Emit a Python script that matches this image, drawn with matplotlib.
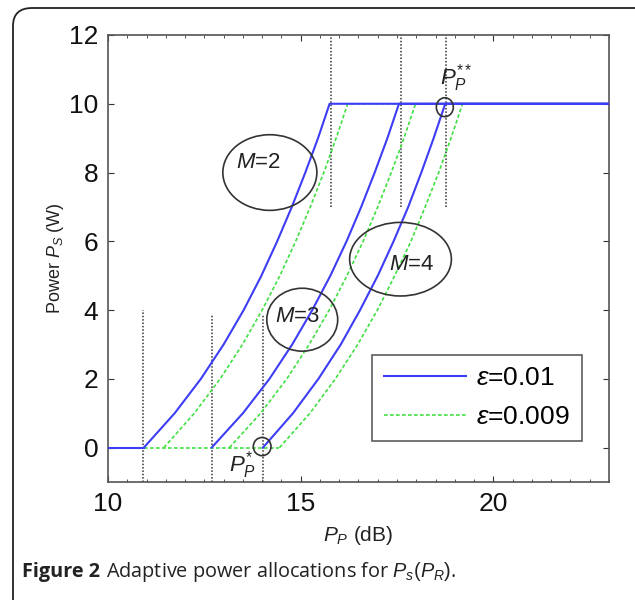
import matplotlib
matplotlib.use("Agg")
import matplotlib.pyplot as plt
from matplotlib.patches import Ellipse, FancyBboxPatch
from matplotlib.ticker import MultipleLocator

plt.rcParams['font.family'] = ['Liberation Sans', 'DejaVu Sans']
plt.rcParams['mathtext.fontset'] = 'custom'
plt.rcParams['mathtext.rm'] = 'Liberation Sans'
plt.rcParams['mathtext.it'] = 'Liberation Sans:italic'
plt.rcParams['mathtext.bf'] = 'Liberation Sans:bold'

# power levels (W)
ps_levels = [0, 1, 2, 3, 4, 5, 6, 7, 8, 9, 10, 10]

# P_P (dB) where each curve reaches the levels above (last point = right edge)
blue_m2 = [10.93, 11.73, 12.41, 13.00, 13.52, 13.98, 14.39, 14.77, 15.12, 15.45, 15.75, 23.0]
blue_m3 = [12.69, 13.50, 14.19, 14.78, 15.30, 15.77, 16.19, 16.57, 16.92, 17.25, 17.55, 23.0]
blue_m4 = [14.02, 14.80, 15.46, 16.04, 16.54, 17.00, 17.41, 17.79, 18.13, 18.45, 18.75, 23.0]
green_m2 = [11.45, 12.24, 12.91, 13.49, 14.00, 14.46, 14.87, 15.25, 15.60, 15.92, 16.22, 23.0]
green_m3 = [13.15, 13.96, 14.64, 15.22, 15.74, 16.20, 16.62, 17.00, 17.35, 17.68, 17.98, 23.0]
green_m4 = [14.45, 15.24, 15.90, 16.48, 16.99, 17.44, 17.86, 18.23, 18.58, 18.90, 19.20, 23.0]

# zero-power stretches before each threshold
blue_zero = [(10.0, 10.93)]
green_zero = [(10.0, 14.45)]

# dotted guide lines
low_guide_x = [10.9, 12.69, 14.02]
low_guide_top = [4.0, 3.85, 3.9]
high_guide_x = [15.78, 17.6, 18.76]
high_guide_bottom = [7.0, 7.0, 7.0]

# M labels: number, ellipse centre, width, height, text position
m_values = ['2', '3', '4']
m_centres = [(14.2, 8.0), (15.04, 3.72), (17.59, 5.48)]
m_sizes = [(2.44, 2.2), (1.84, 1.83), (2.64, 2.14)]
m_text_pos = [(13.9, 8.3), (14.92, 3.8), (17.88, 5.33)]

blue = '#3d3df5'
green = '#40e040'

fig = plt.figure(figsize=(6.35, 6.0), dpi=100)

# rounded outer frame
frame = FancyBboxPatch((13 / 635, -0.05), 1.1, 1.05 - 8 / 600,
                       boxstyle="round,pad=0,rounding_size=0.03",
                       transform=fig.transFigure, fill=False,
                       edgecolor='#222222', linewidth=1.3)
fig.patches.append(frame)

ax = fig.add_axes([108 / 635, 1 - 482 / 600, 501 / 635, 447 / 600])

for x0, x1 in green_zero:
    ax.plot([x0, x1], [0, 0], color=green, linewidth=1.2, dashes=(2.2, 1.4), zorder=2)
for x0, x1 in blue_zero:
    ax.plot([x0, x1], [0, 0], color=blue, linewidth=1.5, zorder=3)
for xs in [green_m2, green_m3, green_m4]:
    ax.plot(xs, ps_levels, color=green, linewidth=1.2, dashes=(2.2, 1.4), zorder=2)
for xs in [blue_m2, blue_m3, blue_m4]:
    ax.plot(xs, ps_levels, color=blue, linewidth=1.5, zorder=3)

for x, top in zip(low_guide_x, low_guide_top):
    ax.plot([x, x], [-1, top], color='#333333', linewidth=1.1, dashes=(1, 1.2), zorder=1)
for x, bot in zip(high_guide_x, high_guide_bottom):
    ax.plot([x, x], [bot, 12], color='#333333', linewidth=1.1, dashes=(1, 1.2), zorder=1)

for m, c, (w, h), tp in zip(m_values, m_centres, m_sizes, m_text_pos):
    ax.add_patch(Ellipse(c, w, h, fill=False, edgecolor='#333333', linewidth=1.2, zorder=4))
    ax.text(tp[0], tp[1], '$M$=' + m, fontsize=16, ha='center', va='center',
            color='#222222', zorder=5)

# small circles marking the thresholds
ax.add_patch(Ellipse((18.74, 9.9), 0.44, 0.55, fill=False, edgecolor='#333333', linewidth=1.2, zorder=4))
ax.add_patch(Ellipse((14.0, 0.03), 0.46, 0.53, fill=False, edgecolor='#333333', linewidth=1.2, zorder=4))
ax.text(19.05, 10.75, r'$P_P^{**}$', fontsize=16, ha='center', va='center', color='#222222')
ax.text(13.5, -0.5, r'$P_P^{*}$', fontsize=16, ha='center', va='center', color='#222222')

ax.set_xlim(10, 23)
ax.set_ylim(-1, 12)
ax.set_xticks([10, 15, 20])
ax.set_yticks([0, 2, 4, 6, 8, 10, 12])
ax.xaxis.set_minor_locator(MultipleLocator(0.5))
ax.tick_params(which='both', direction='in', top=True, right=True, colors='#333333',
               labelcolor='#111111', labelsize=19)
ax.tick_params(which='major', length=4, pad=7)
ax.tick_params(which='minor', length=2.5)
for s in ax.spines.values():
    s.set_color('#555555')
    s.set_linewidth(1.2)

ax.set_xlabel('$P_P$ (dB)', fontsize=15, labelpad=6, color='#222222')
ax.set_ylabel('Power $P_S$ (W)', fontsize=13, labelpad=2, color='#222222')

leg_lines = [plt.Line2D([], [], color=blue, linewidth=1.5),
             plt.Line2D([], [], color=green, linewidth=1.2, dashes=(2.2, 1.4))]
leg = ax.legend(leg_lines, [r'$\varepsilon$=0.01', r'$\varepsilon$=0.009'],
                loc='lower right', bbox_to_anchor=(0.946, 0.092), borderaxespad=0,
                fontsize=19, frameon=True, fancybox=False, edgecolor='#333333',
                handlelength=3.1, handletextpad=0.4, borderpad=0.45, labelspacing=0.55)
leg.get_frame().set_linewidth(1.2)

# caption
fig.canvas.draw()
cap1 = fig.text(22 / 635, 1 - 572 / 600, 'Figure 2', fontsize=14.3, fontweight='bold',
                family=['Open Sans', 'DejaVu Sans'], va='center', color='#222222')
bb = cap1.get_window_extent(fig.canvas.get_renderer())
fig.text(bb.x1 / fig.bbox.width + 0.009, 1 - 572 / 600,
         'Adaptive power allocations for $P_s(P_R)$.', fontsize=14.3,
         family=['Open Sans', 'DejaVu Sans'], va='center', color='#222222')

fig.savefig('out.png', dpi=100)
